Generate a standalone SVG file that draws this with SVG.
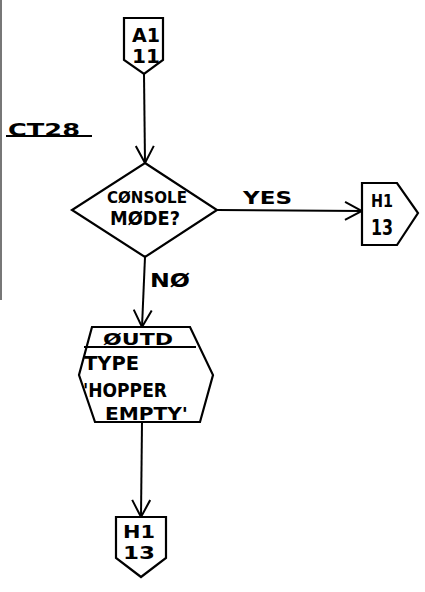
<svg xmlns="http://www.w3.org/2000/svg" width="425" height="592" viewBox="0 0 425 592">
<defs>
<marker id="arr" viewBox="0 0 20 20" refX="19" refY="10" markerWidth="20" markerHeight="20" markerUnits="userSpaceOnUse" orient="auto">
<path d="M2,1 L19,10 L2,19" fill="none" stroke="#000" stroke-width="2"/>
</marker>
<style>
.s{fill:#fff;stroke:#000;stroke-width:2.2;stroke-linejoin:miter}
.l{fill:none;stroke:#000;stroke-width:2}
.t{font-family:"DejaVu Sans","Liberation Sans",sans-serif;font-weight:bold;fill:#000}
</style>
</defs>
<rect width="425" height="592" fill="#fff"/>
<line x1="1" y1="0" x2="1" y2="300" stroke="#777" stroke-width="2"/>
<g id="label-ct28">
<text class="t" x="8" y="136" font-size="18" textLength="72" lengthAdjust="spacingAndGlyphs">CT28</text>
<line x1="6" y1="136" x2="92" y2="136" stroke="#000" stroke-width="2"/>
</g>
<g id="connectors">
<line class="l" x1="144" y1="74" x2="145" y2="163" marker-end="url(#arr)"/>
<line class="l" x1="217" y1="210" x2="362" y2="211" marker-end="url(#arr)"/>
<line class="l" x1="145" y1="257" x2="142" y2="327" marker-end="url(#arr)"/>
<line class="l" x1="142" y1="422" x2="141" y2="517" marker-end="url(#arr)"/>
<text class="t" x="243" y="204" font-size="17" textLength="49" lengthAdjust="spacingAndGlyphs">YES</text>
<text class="t" x="150" y="287" font-size="19" textLength="40" lengthAdjust="spacingAndGlyphs">NØ</text>
</g>
<g id="start-A1-11">
<path class="s" d="M124,18 L163,18 L163,60 L144,74 L124,60 Z"/>
<text class="t" x="132" y="42" font-size="19" textLength="28" lengthAdjust="spacingAndGlyphs">A1</text>
<text class="t" x="132" y="63" font-size="19" textLength="28" lengthAdjust="spacingAndGlyphs">11</text>
</g>
<g id="decision-console-mode">
<path class="s" d="M145,163 L217,210 L145,257 L72,210 Z"/>
<text class="t" x="107" y="203" font-size="15" textLength="80" lengthAdjust="spacingAndGlyphs">CØNSOLE</text>
<text class="t" x="110" y="225" font-size="19" textLength="70" lengthAdjust="spacingAndGlyphs">MØDE?</text>
</g>
<g id="offpage-H1-13-right">
<path class="s" d="M362,183 L397,183 L418,213 L397,245 L362,245 Z"/>
<text class="t" x="371" y="207" font-size="17" textLength="22" lengthAdjust="spacingAndGlyphs">H1</text>
<text class="t" x="371" y="235" font-size="22" textLength="22" lengthAdjust="spacingAndGlyphs">13</text>
</g>
<g id="io-outd-type-hopper-empty">
<path class="s" d="M92,327 L190,327 L213,375 L200,422 L95,422 L79,375 Z"/>
<line x1="84" y1="347" x2="196" y2="347" stroke="#000" stroke-width="2.2"/>
<text class="t" x="103" y="345" font-size="16" textLength="70" lengthAdjust="spacingAndGlyphs">ØUTD</text>
<text class="t" x="84" y="370" font-size="19" textLength="55" lengthAdjust="spacingAndGlyphs">TYPE</text>
<text class="t" x="83" y="397" font-size="19" textLength="84" lengthAdjust="spacingAndGlyphs">'HOPPER</text>
<text class="t" x="105" y="420" font-size="17" textLength="83" lengthAdjust="spacingAndGlyphs">EMPTY'</text>
</g>
<g id="offpage-H1-13-bottom">
<path class="s" d="M116,517 L166,517 L166,558 L141,577 L116,558 Z"/>
<text class="t" x="123" y="538" font-size="17" textLength="32" lengthAdjust="spacingAndGlyphs">H1</text>
<text class="t" x="123" y="559" font-size="17" textLength="32" lengthAdjust="spacingAndGlyphs">13</text>
</g>
</svg>
